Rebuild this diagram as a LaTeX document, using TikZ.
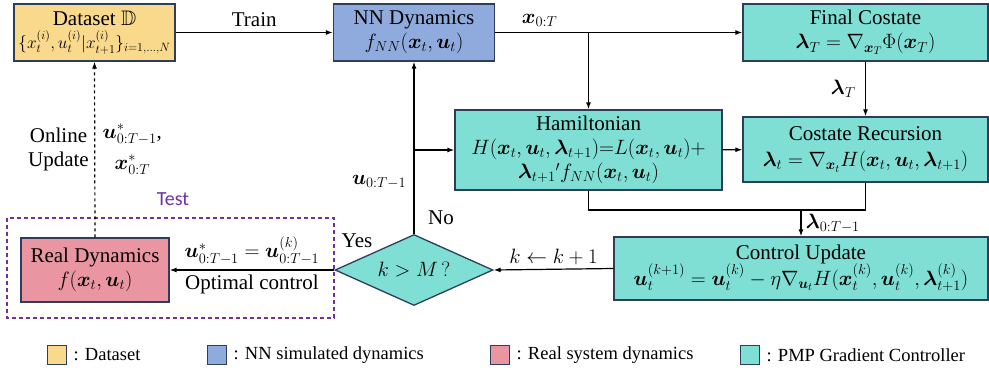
\documentclass[tikz,border=0pt]{standalone}
\usepackage{amsmath,amssymb,bm}
\usepackage{fontspec}
\setmainfont{Liberation Serif}
\newfontfamily\testfont{Carlito}
\usetikzlibrary{arrows.meta, positioning, shapes.geometric}
\definecolor{dsyellow}{HTML}{F9D98C}
\definecolor{nnblue}{HTML}{8FAADC}
\definecolor{rlpink}{HTML}{EA96A2}
\definecolor{pmpteal}{HTML}{7FDFD5}
\definecolor{edge}{HTML}{2E3D5C}
\definecolor{tpurple}{HTML}{7030A0}

\begin{document}
\begin{tikzpicture}[
  x=1pt, y=-1pt,
  >={Latex[length=7pt, width=5pt]},
  font=\rmfamily\fontsize{21}{24}\selectfont,
  box/.style={draw=edge, line width=1.3pt, align=center, inner sep=2pt},
  flow/.style={line width=1.2pt, ->},
  link/.style={line width=1.2pt},
  keybox/.style={draw=edge, line width=1.3pt, minimum size=19pt, inner sep=0pt},
  keytext/.style={font=\rmfamily\fontsize{18.5}{20}\selectfont, right=3pt},
]
\useasboundingbox (0,0) rectangle (989,373);

% =============================================
% Blocks
% =============================================
\node[box, fill=dsyellow, minimum width=161pt, minimum height=57pt] (data) at (94.5,32.5)
  {Dataset $\mathbb{D}$\\[-1pt]
   {\fontsize{17}{19}\selectfont$\{x_t^{(i)},u_t^{(i)}|x_{t+1}^{(i)}\}_{i=1,\dots,N}$}};
\node[box, fill=nnblue, minimum width=161pt, minimum height=57pt] (nn) at (414,32.5)
  {NN Dynamics\\ $f_{NN}(\bm{x}_t,\bm{u}_t)$};
\node[box, fill=pmpteal, minimum width=245pt, minimum height=57pt] (final) at (865.5,32.5)
  {Final Costate\\ $\bm{\lambda}_T=\nabla_{\bm{x}_T}\Phi(\bm{x}_T)$};
\node[box, fill=pmpteal, minimum width=267pt, minimum height=80pt] (ham) at (588.5,150)
  {Hamiltonian\\
   $H(\bm{x}_t,\bm{u}_t,\bm{\lambda}_{t+1}){=}L(\bm{x}_t,\bm{u}_t)+$\\
   $\bm{\lambda}_{t+1}{}'f_{NN}(\bm{x}_t,\bm{u}_t)$};
\node[box, fill=pmpteal, minimum width=245pt, minimum height=65pt] (cost) at (865.5,149.5)
  {Costate Recursion\\[2pt] $\bm{\lambda}_t=\nabla_{\bm{x}_t}H(\bm{x}_t,\bm{u}_t,\bm{\lambda}_{t+1})$};
\node[box, fill=pmpteal, minimum width=374pt, minimum height=63pt] (ctrl) at (801,268.5)
  {Control Update\\[-2pt]
   $\bm{u}_t^{(k+1)}=\bm{u}_t^{(k)}-\eta\nabla_{\bm{u}_t}H(\bm{x}_t^{(k)},\bm{u}_t^{(k)},\bm{\lambda}_{t+1}^{(k)})$};
\node[box, fill=pmpteal, diamond, aspect=2.2, minimum width=158pt, minimum height=71pt,
  inner sep=0pt] (dec) at (414,270) {$k>M\,?$};
\node[box, fill=rlpink, minimum width=148pt, minimum height=64pt] (real) at (95,270)
  {Real Dynamics\\ $f(\bm{x}_t,\bm{u}_t)$};

% Test frame
\draw[tpurple, line width=1.1pt, dash pattern=on 4pt off 3pt] (7,218) rectangle (334,318);
\node[text=tpurple, font=\testfont\fontsize{20}{22}\selectfont] (testlab) at (173,199) {Test};

% =============================================
% Connectors
% =============================================
\draw[flow] (data) -- node[above=2pt] {Train} (nn);
\draw[flow] (nn) -- node[pos=0.18, above=2pt] {$\bm{x}_{0:T}$} (final);
\draw[flow] (ham.north |- nn.east) -- (ham.north);
\draw[flow] (final) -- node[left=6pt] {$\bm{\lambda}_T$} (cost);
\draw[flow] (ham) -- (cost);

% costate collection
\coordinate (lam) at (ctrl.north |- 0,210);
\draw[link] (ham.south) -- (ham.south |- lam) -- (cost.south |- lam) -- (cost.south);
\draw[flow] (lam) -- node[right=1pt] {$\bm{\lambda}_{0:T-1}$} (ctrl.north);

\draw[flow] (ctrl.west) -- node[above=1pt] {$k\leftarrow k+1$} (dec.east);
\draw[flow] (dec.north) -- node[pos=0.3, left=4pt] {$\bm{u}_{0:T-1}$} (nn.south);
\node (no) at (441,218) {No};
\draw[flow] (dec.north |- ham.west) -- (ham.west);

\draw[flow] (dec.west) -- node[above=1pt] {$\bm{u}_{0:T-1}^{*}=\bm{u}_{0:T-1}^{(k)}$}
  node[below=1pt] {Optimal control} (real.east);
\node (yes) at (357,241) {Yes};

% online update
\draw[flow, dashed] (real.north) -- node[left=2pt, align=center] {Online\\ Update}
  node[right=4pt, align=center] {$\bm{u}_{0:T-1}^{*}$,\\[7pt] $\bm{x}_{0:T}^{*}$} (data.south);

% =============================================
% Legend
% =============================================
\node[keybox, fill=dsyellow] (kdata) at (57,355) {};
\node[keytext] at (kdata.east) {: Dataset};
\node[keybox, fill=nnblue] (knn) at (217,355) {};
\node[keytext] at (knn.east) {: NN simulated dynamics};
\node[keybox, fill=rlpink] (kreal) at (500,355) {};
\node[keytext] at (kreal.east) {: Real system dynamics};
\node[keybox, fill=pmpteal] (kpmp) at (750,355) {};
\node[keytext] at (kpmp.east) {: PMP Gradient Controller};

\end{tikzpicture}
\end{document}
